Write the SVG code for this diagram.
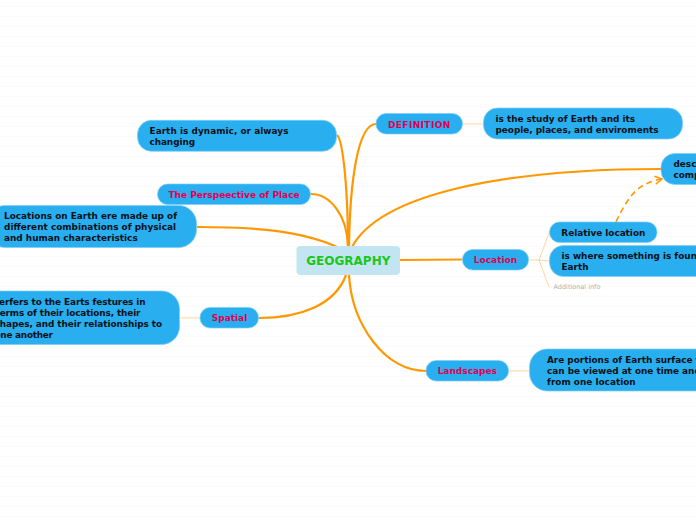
<svg xmlns="http://www.w3.org/2000/svg" width="696" height="520" viewBox="0 0 696 520">
<style>
text{font-family:"DejaVu Sans",sans-serif;font-weight:bold}
.body{font-size:8.900px;fill:#071018}
.main{font-size:9px;fill:#e0004f;text-anchor:middle}
.pill{fill:#29aeef;stroke:#7fcdf3;stroke-width:.7}
.main-link{fill:none;stroke:#ff9800;stroke-width:2.200}
.sub-link{fill:none;stroke:#ffd5a0;stroke-width:1}
.grid{stroke:#f9fafa;stroke-width:1}
</style>
<defs>
<marker id="arrow" markerWidth="12" markerHeight="12" refX="8.500" refY="5" orient="auto" markerUnits="userSpaceOnUse"><path d="M1.500 1L8.500 5L1.500 9" fill="none" stroke="#ff9800" stroke-width="1.500"/></marker>
<pattern id="lines" width="696" height="10" patternUnits="userSpaceOnUse" y="0"><line class="grid" x1="0" x2="696" y1="6.500" y2="6.500"/></pattern>
</defs>
<rect id="background" width="696" height="520" fill="#fff"/>
<rect width="696" height="520" fill="url(#lines)"/>
<g id="connectors">
<path class="main-link" d="M348 246C348 190 343 140 337 135"/>
<path class="main-link" d="M348 246C347 215 330 194 311 194"/>
<path class="main-link" d="M337 247C300 230 250 227 197 227"/>
<path class="main-link" d="M349 246C350 180 358 124 376 124"/>
<path class="main-link" d="M352 247C380 195 500 169 661 169"/>
<path class="main-link" d="M400 260L462 259.500"/>
<path class="main-link" d="M346 275C335 305 300 318 259 318"/>
<path class="main-link" d="M349 275C352 325 385 371 426 371"/>
<path class="sub-link" d="M463 124H483"/>
<path class="sub-link" stroke-width="1.200" d="M529 260H539M539 260L549 233M539 260L549 261M539 260L549 287"/>
<path class="sub-link" d="M180 318H200"/>
<path class="sub-link" d="M509 371H529"/>
<path d="M616 222C630 192 640 183 662 179" fill="none" stroke="#ff9800" stroke-width="1.600" stroke-dasharray="6 4" marker-end="url(#arrow)"/>
</g>
<g id="central"><rect x="296.500" y="246" width="103.500" height="29" rx="4" fill="#c3e5f1"/><text x="348.300" y="265" font-size="12" fill="#1ac71a" text-anchor="middle">GEOGRAPHY</text></g>
<g id="dynamic"><rect class="pill" x="137.500" y="120.300" width="199" height="31" rx="14"/><text class="body" x="149.500" y="134" textLength="139">Earth is dynamic, or always</text><text class="body" x="149.500" y="145" textLength="45.500">changing</text></g>
<g id="perspective"><rect class="pill" x="157.500" y="184" width="153" height="20.500" rx="10"/><text class="main" x="234" y="198">The Perspeective of Place</text></g>
<g id="locations"><rect class="pill" x="-13" y="205.500" width="209.500" height="42" rx="18"/><text class="body" x="4" y="219" textLength="173">Locations on Earth ere made up of</text><text class="body" x="4" y="230" textLength="172">different combinations of physical</text><text class="body" x="4" y="241" textLength="133.700">and human characteristics</text></g>
<g id="spatial"><rect class="pill" x="200" y="307.500" width="58.500" height="20.500" rx="10"/><text class="main" x="229.500" y="321">Spatial</text></g>
<g id="spatial-text"><rect class="pill" x="-40" y="291" width="219.500" height="53.500" rx="18"/><text class="body" x="-1" y="305" textLength="146.600">erfers to the Earts festures in</text><text class="body" x="-4.500" y="316" textLength="145">terms of their locations, their</text><text class="body" x="-5.500" y="327" textLength="167.500">shapes, and their relationships to</text><text class="body" x="-5.500" y="338" textLength="58.500">one another</text></g>
<g id="definition"><rect class="pill" x="376" y="113.500" width="86.500" height="20.500" rx="10"/><text class="main" x="419.300" y="127.500" style="letter-spacing:.4px">DEFINITION</text></g>
<g id="definition-text"><rect class="pill" x="483.500" y="108" width="199" height="31" rx="14"/><text class="body" x="495.500" y="122" textLength="139.500">is the study of Earth and its</text><text class="body" x="495.500" y="133" textLength="163">people, places, and enviroments</text></g>
<g id="describes"><rect class="pill" x="661" y="153.500" width="100" height="31" rx="14"/><text class="body" x="673.500" y="167">desc</text><text class="body" x="673.500" y="178">comp</text></g>
<g id="location"><rect class="pill" x="462.500" y="249.500" width="66" height="20.500" rx="10"/><text class="main" x="495.500" y="263">Location</text></g>
<g id="relative"><rect class="pill" x="549.500" y="222" width="107.500" height="20.500" rx="10"/><text class="body" x="561.300" y="236" textLength="84">Relative location</text></g>
<g id="where"><rect class="pill" x="549.500" y="245.500" width="190" height="31" rx="14"/><text class="body" x="561.500" y="259">is where something is found on</text><text class="body" x="561.500" y="270" textLength="27">Earth</text></g>
<g id="additional"><text x="553.500" y="289" font-size="6.500" fill="#b0b0b0" style="font-weight:normal">Additional info</text></g>
<g id="landscapes"><rect class="pill" x="426" y="360.500" width="82.500" height="20.500" rx="10"/><text class="main" x="467.300" y="374">Landscapes</text></g>
<g id="landscapes-text"><rect class="pill" x="529.500" y="349" width="219" height="42" rx="18"/><text class="body" x="547" y="363">Are portions of Earth surface that</text><text class="body" x="547" y="374">can be viewed at one time and</text><text class="body" x="547" y="385" textLength="88.700">from one location</text></g>
</svg>
